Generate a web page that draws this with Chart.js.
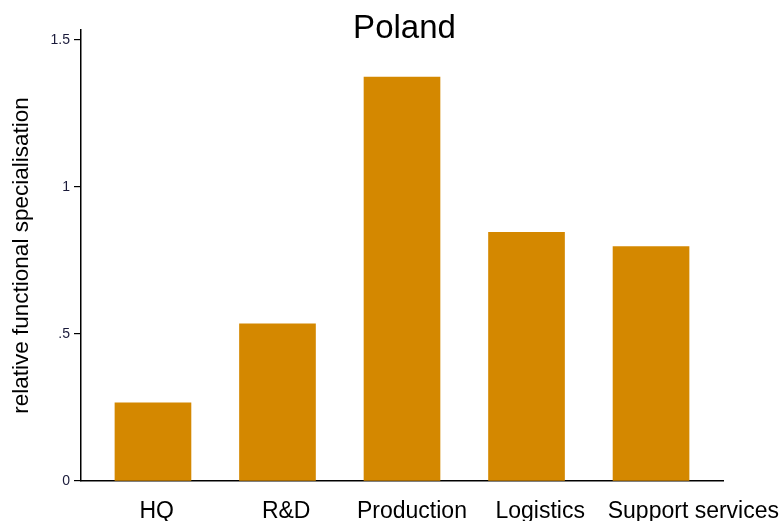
<!DOCTYPE html>
<html>
<head>
<meta charset="utf-8">
<script src="https://cdn.jsdelivr.net/npm/chart.js@4/dist/chart.umd.min.js"></script>
<style>
  html, body { margin: 0; padding: 0; background: #fff; }
  #wrap { width: 782px; height: 521px; }
</style>
</head>
<body>
<div id="wrap"><canvas id="chart"></canvas></div>
<script>
// data
const categories = ['HQ', 'R&D', 'Production', 'Logistics', 'Support services'];
const specialisation = [0.266, 0.535, 1.374, 0.846, 0.797];
const yTickValues = [0, 0.5, 1, 1.5];
const yTickLabels = ['0', '.5', '1', '1.5'];

// where the category labels sit (in bar index units), they drift right in the original
const labelPos = [0.03, 1.07, 2.08, 3.11, 4.34];

const FONT = '"Liberation Sans", Arial, sans-serif';

// title is drawn on top of the plot area like in the original
const titlePlugin = {
  id: 'bigTitle',
  afterDraw(chart) {
    const ctx = chart.ctx;
    ctx.save();
    ctx.font = '33px ' + FONT;
    ctx.fillStyle = '#000';
    ctx.textAlign = 'center';
    ctx.textBaseline = 'alphabetic';
    ctx.fillText('Poland', 404.5, 38);
    ctx.restore();
  }
};

const ctx = document.getElementById('chart').getContext('2d');
new Chart(ctx, {
  type: 'bar',
  data: {
    datasets: [{
      data: categories.map((c, i) => ({ x: i, y: specialisation[i] })),
      backgroundColor: '#D48800',
      borderWidth: 0,
      barThickness: 76
    }]
  },
  options: {
    responsive: true,
    maintainAspectRatio: false,
    animation: false,
    layout: { padding: { left: 0, top: 30, right: 59, bottom: 0 } },
    plugins: {
      legend: { display: false },
      tooltip: { enabled: false }
    },
    scales: {
      x: {
        type: 'linear',
        offset: false,
        min: -0.578,
        max: 4.578,
        afterBuildTicks: (scale) => { scale.ticks = labelPos.map(v => ({ value: v })); },
        afterFit: (scale) => {
          scale.height = 40;
          // let the long last label hang into the right margin
          scale.paddingLeft = 0;
          scale.paddingRight = 0;
        },
        grid: { display: false, drawTicks: false },
        border: { display: true, color: '#000', width: 1.5 },
        ticks: {
          autoSkip: false,
          maxRotation: 0,
          padding: 17,
          color: '#000',
          font: { family: FONT, size: 23 },
          callback: (value, index) => categories[index]
        }
      },
      y: {
        min: 0,
        max: 1.534,
        afterBuildTicks: (scale) => { scale.ticks = yTickValues.map(v => ({ value: v })); },
        afterFit: (scale) => { scale.width = 81; },
        grid: { drawOnChartArea: false, tickLength: 7, color: '#000', lineWidth: 1.2 },
        border: { display: true, color: '#000', width: 1.5 },
        ticks: {
          padding: 4,
          color: '#1a1a3a',
          font: { family: FONT, size: 14 },
          callback: (value, index) => yTickLabels[index]
        },
        title: {
          display: true,
          text: 'relative functional specialisation',
          color: '#000',
          font: { family: FONT, size: 22.5 },
          padding: { top: 8, bottom: 0 }
        }
      }
    }
  },
  plugins: [titlePlugin]
});
</script>
</body>
</html>
